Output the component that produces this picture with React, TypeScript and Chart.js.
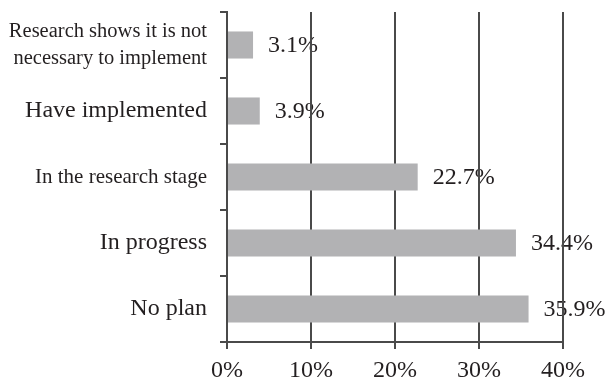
import React, { useEffect, useRef } from 'react';
import { Chart, registerables } from 'chart.js';

Chart.register(...registerables);

const categories: (string | string[])[] = [
  ['Research shows it is not', 'necessary to implement'],
  'Have implemented',
  'In the research stage',
  'In progress',
  'No plan',
];
const values = [3.1, 3.9, 22.7, 34.4, 35.9];
const xTickValues = [0, 10, 20, 30, 40];

const SERIF = '"Liberation Serif", "Times New Roman", serif';
const TEXT = '#231f20';
const LINE = '#4a4a4a';

const valueLabels = {
  id: 'valueLabels',
  beforeDraw(chart: any) {
    const ctx = chart.ctx;
    const meta = chart.getDatasetMeta(0);
    const data = chart.data.datasets[0].data as number[];
    ctx.save();
    ctx.font = `24px ${SERIF}`;
    ctx.fillStyle = TEXT;
    ctx.textAlign = 'left';
    ctx.textBaseline = 'middle';
    meta.data.forEach((el: any, i: number) => {
      ctx.fillText(data[i].toFixed(1) + '%', el.x + 15, el.y + 1);
    });
    ctx.restore();
  },
};

export default function App() {
  const ref = useRef<HTMLCanvasElement | null>(null);

  useEffect(() => {
    if (!ref.current) return;
    const labelSizes = [20.5, 24, 21, 24, 24];
    const chart = new Chart(ref.current, {
      type: 'bar',
      data: {
        labels: categories,
        datasets: [
          {
            data: values,
            backgroundColor: '#b2b2b4',
            borderWidth: 0,
            barPercentage: 0.41,
            categoryPercentage: 1,
          },
        ],
      },
      options: {
        indexAxis: 'y',
        animation: false,
        responsive: true,
        maintainAspectRatio: false,
        layout: { padding: { left: 0, top: 12, right: 44, bottom: 0 } },
        plugins: {
          legend: { display: false },
          tooltip: { enabled: false },
          title: { display: false },
        },
        scales: {
          x: {
            type: 'linear',
            min: xTickValues[0],
            max: xTickValues[xTickValues.length - 1],
            afterBuildTicks: (s: any) => {
              s.ticks = xTickValues.map((v) => ({ value: v }));
            },
            ticks: {
              callback: (v: any) => v + '%',
              font: { family: SERIF, size: 24 },
              color: TEXT,
              padding: 7,
              maxRotation: 0,
              autoSkip: false,
            },
            grid: {
              color: LINE,
              lineWidth: 2,
              drawTicks: true,
              tickLength: 7,
              tickColor: LINE,
              tickWidth: 2,
            },
            border: { display: true, color: LINE, width: 2 },
            afterFit: (s: any) => {
              s.height = 39;
              s.paddingLeft = 0;
              s.paddingRight = 0;
            },
          },
          y: {
            type: 'category',
            offset: true,
            z: 1,
            grid: {
              offset: true,
              drawOnChartArea: false,
              drawTicks: true,
              tickLength: 7,
              color: LINE,
              tickColor: LINE,
              lineWidth: 2,
              tickWidth: 2,
            },
            border: { display: true, color: LINE, width: 2 },
            ticks: {
              padding: 13,
              color: TEXT,
              autoSkip: false,
              font: (ctx: any) => ({
                family: SERIF,
                size: labelSizes[ctx.index] ?? 24,
                lineHeight: 1.3,
              }),
            },
            afterFit: (s: any) => {
              s.width = 227;
              s.paddingTop = 0;
              s.paddingBottom = 0;
            },
          },
        },
      },
      plugins: [valueLabels],
    } as any);
    return () => chart.destroy();
  }, []);

  return (
    <div style={{ position: 'fixed', left: 0, top: 0, width: 607, height: 381, background: '#fff' }}>
      <canvas ref={ref} />
    </div>
  );
}
